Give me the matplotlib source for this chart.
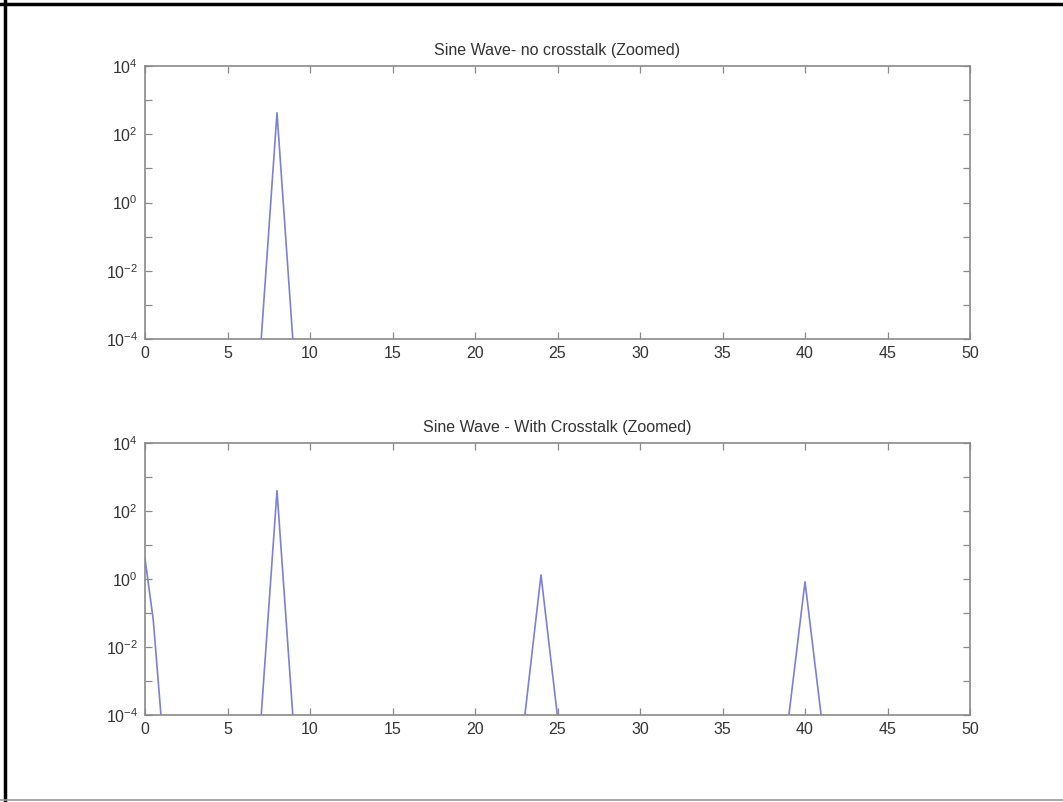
import matplotlib
matplotlib.use("Agg")
import matplotlib.pyplot as plt
from matplotlib.lines import Line2D
from matplotlib.ticker import FixedLocator

plt.rcParams['font.family'] = ['Liberation Sans', 'DejaVu Sans']
plt.rcParams['mathtext.fontset'] = 'custom'
plt.rcParams['mathtext.rm'] = 'Liberation Sans'
plt.rcParams['mathtext.it'] = 'Liberation Sans'

# ---- data ----
title_top = "Sine Wave- no crosstalk (Zoomed)"
title_bottom = "Sine Wave - With Crosstalk (Zoomed)"

freq_top = [0, 6, 7, 8, 9, 10, 50]
mag_top = [1e-16, 1e-16, 10**-4.3, 10**2.63, 10**-4.3, 1e-16, 1e-16]

freq_bot = [0, 0.5, 1, 2, 6, 7, 8, 9, 10, 22, 23, 24, 25, 26, 38, 39, 40, 41, 42, 50]
mag_bot = [10**0.6, 10**-1.2, 10**-4.2, 1e-16, 1e-16, 10**-4.3, 10**2.6, 10**-4.3, 1e-16,
           1e-16, 10**-4.1, 10**0.12, 10**-4.05, 1e-16, 1e-16, 10**-4.1, 10**-0.08, 10**-4.1, 1e-16, 1e-16]

xticks = [0, 5, 10, 15, 20, 25, 30, 35, 40, 45, 50]
yticks_major = [1e-4, 1e-2, 1e0, 1e2, 1e4]
ytick_labels = [r'$10^{-4}$', r'$10^{-2}$', r'$10^{0}$', r'$10^{2}$', r'$10^{4}$']
yticks_minor = [1e-3, 1e-1, 1e1, 1e3]

W, H = 1063, 802
fig = plt.figure(figsize=(W / 100, H / 100), dpi=100)

line_color = '#7f7fd4'
spine_color = '#8a8a8a'
text_color = '#333333'

def make_ax(rect_px, x, y, title):
    l, t, r, b = rect_px
    ax = fig.add_axes([l / W, 1 - b / H, (r - l) / W, (b - t) / H])
    ax.plot(x, y, color=line_color, lw=1.2)
    ax.set_yscale('log')
    ax.set_xlim(0, 50)
    ax.set_ylim(1e-4, 1e4)
    ax.set_xticks(xticks)
    ax.set_xticklabels([str(v) for v in xticks])
    ax.yaxis.set_major_locator(FixedLocator(yticks_major))
    ax.yaxis.set_minor_locator(FixedLocator(yticks_minor))
    ax.set_yticklabels(ytick_labels)
    ax.yaxis.set_minor_formatter(plt.NullFormatter())
    ax.tick_params(which='both', direction='in', top=True, right=True,
                   length=5, width=0.9, color=spine_color, labelsize=11.5,
                   labelcolor=text_color, pad=5)
    for s in ax.spines.values():
        s.set_color(spine_color)
        s.set_linewidth(1.2)
    ax.set_title(title, fontsize=11.5, color=text_color, pad=8)
    return ax

make_ax((145, 66, 970, 339), freq_top, mag_top, title_top)
make_ax((145, 443, 970, 715), freq_bot, mag_bot, title_bottom)

# figure border
fig.add_artist(Line2D([0, 1], [1 - 4 / H, 1 - 4 / H], transform=fig.transFigure, color='black', lw=2.5))
fig.add_artist(Line2D([5 / W, 5 / W], [0, 1], transform=fig.transFigure, color='black', lw=2.5))
fig.add_artist(Line2D([0, 1], [1 - 800 / H, 1 - 800 / H], transform=fig.transFigure, color='#999999', lw=1.2))

fig.savefig('out.png', dpi=100)
